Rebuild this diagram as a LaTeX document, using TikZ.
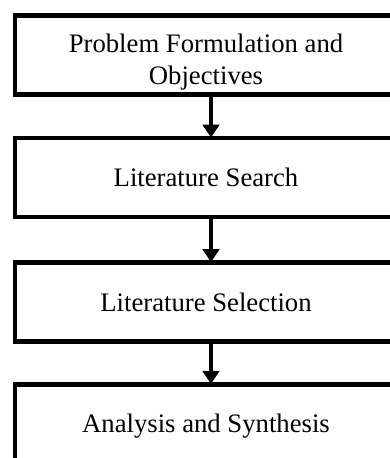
\documentclass[tikz,border=0pt]{standalone}
\usepackage{fontspec}
\setmainfont{Liberation Serif}
\usetikzlibrary{arrows.meta}
\begin{document}
\begin{tikzpicture}[x=1pt,y=-1pt,
  txt/.style={inner sep=0pt, align=center, font=\fontsize{26.7}{32}\selectfont},
  stepbox/.style={draw=black, line width=4.8pt, minimum width=382pt, minimum height=79pt,
    txt, text height=18.2pt, text depth=0pt},
  flow/.style={line width=4.5pt, -{Triangle[width=16.5pt,length=13pt]}, shorten >=-2pt}]
\useasboundingbox (0,0) rectangle (390,458);
\clip (0,0) rectangle (390,458);
\node[stepbox, label={[name=t1, txt, yshift=-7pt]center:Problem Formulation and\\Objectives}] (b1) at (206,55) {};
\node[stepbox] (b2) at (206,177.5) {Literature Search};
\node[stepbox] (b3) at (206,302) {Literature Selection};
\node[stepbox] (b4) at (206,423.8) {Analysis and Synthesis};
\draw[flow] ([xshift=5pt]b1.south) -- ([xshift=5pt]b2.north);
\draw[flow] ([xshift=5pt]b2.south) -- ([xshift=5pt]b3.north);
\draw[flow] ([xshift=5pt]b3.south) -- ([xshift=5pt]b4.north);
\end{tikzpicture}
\end{document}
